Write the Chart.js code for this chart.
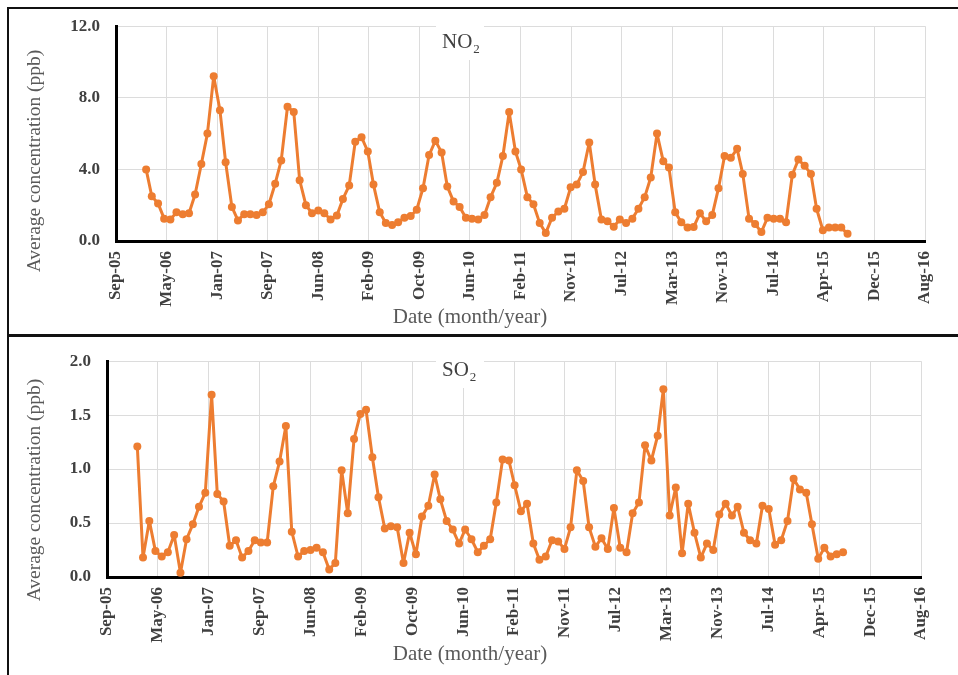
<!DOCTYPE html>
<html lang="en">
<head>
<meta charset="UTF-8">
<title>Monthly NO2 and SO2</title>
<script src="https://cdn.jsdelivr.net/npm/chart.js"></script>
<style>
  body { margin: 0; background: #fff; }
  #wrap { position: relative; width: 958px; height: 675px; overflow: hidden; }
  canvas { position: absolute; left: 0; }
  #no2Chart { top: 0; }
  #so2Chart { top: 335px; }
  .frame { position: absolute; border-left: 2px solid #111; border-top: 2px solid #111; }
</style>
</head>
<body>
<div id="wrap">
  <canvas id="no2Chart" width="958" height="335"></canvas>
  <canvas id="so2Chart" width="958" height="340"></canvas>
  <div class="frame" style="left:7px; top:7px; width:951px; height:326px;"></div>
  <div class="frame" style="left:7px; top:334px; width:951px; height:341px; border-top-width:3px;"></div>
</div>

<script>
// monthly averages, first value is Feb 2006, last is Aug 2015
const firstMonth = { year: 2006, month: 1 };

const no2 = [
  4.0, 2.5, 2.1, 1.25, 1.2, 1.6, 1.5, 1.55, 2.6, 4.3, 6.0, 9.2,
  7.3, 4.4, 1.9, 1.15, 1.5, 1.5, 1.45, 1.6, 2.05, 3.2, 4.5, 7.5,
  7.2, 3.4, 2.0, 1.55, 1.7, 1.55, 1.2, 1.42, 2.35, 3.1, 5.55, 5.8,
  5.0, 3.15, 1.6, 1.0, 0.9, 1.05, 1.3, 1.4, 1.75, 2.95, 4.8, 5.6,
  4.95, 3.05, 2.2, 1.9, 1.3, 1.25, 1.2, 1.45, 2.45, 3.25, 4.75, 7.2,
  5.0, 4.0, 2.45, 2.05, 1.0, 0.45, 1.3, 1.65, 1.8, 3.0, 3.15, 3.85,
  5.5, 3.15, 1.2, 1.1, 0.8, 1.2, 1.0, 1.25, 1.8, 2.45, 3.55, 6.0,
  4.45, 4.1, 1.6, 1.05, 0.75, 0.78, 1.55, 1.1, 1.45, 2.95, 4.75, 4.65,
  5.15, 3.75, 1.25, 0.95, 0.5, 1.3, 1.25, 1.25, 1.05, 3.7, 4.55, 4.2,
  3.75, 1.8, 0.6, 0.75, 0.75, 0.75, 0.4
];

const so2 = [
  1.21, 0.18, 0.52, 0.24, 0.19, 0.23, 0.39, 0.04, 0.35, 0.49, 0.65, 0.78,
  1.69, 0.77, 0.70, 0.29, 0.34, 0.18, 0.24, 0.34, 0.32, 0.32, 0.84, 1.07,
  1.40, 0.42, 0.19, 0.24, 0.25, 0.27, 0.23, 0.07, 0.13, 0.99, 0.59, 1.28,
  1.51, 1.55, 1.11, 0.74, 0.45, 0.47, 0.46, 0.13, 0.41, 0.21, 0.56, 0.66,
  0.95, 0.72, 0.52, 0.44, 0.31, 0.44, 0.35, 0.23, 0.29, 0.35, 0.69, 1.09,
  1.08, 0.85, 0.61, 0.68, 0.31, 0.16, 0.19, 0.34, 0.33, 0.26, 0.46, 0.99,
  0.89, 0.46, 0.28, 0.36, 0.26, 0.64, 0.27, 0.23, 0.59, 0.69, 1.22, 1.08,
  1.31, 1.74, 0.57, 0.83, 0.22, 0.68, 0.41, 0.18, 0.31, 0.25, 0.58, 0.68,
  0.57, 0.65, 0.41, 0.34, 0.31, 0.66, 0.63, 0.30, 0.34, 0.52, 0.91, 0.81,
  0.78, 0.49, 0.17, 0.27, 0.19, 0.21, 0.23
];

// date axis: ticks every 250 days starting 5 Sep 2005
const xTickLabels = [
  'Sep-05', 'May-06', 'Jan-07', 'Sep-07', 'Jun-08', 'Feb-09', 'Oct-09', 'Jun-10', 'Feb-11',
  'Nov-11', 'Jul-12', 'Mar-13', 'Nov-13', 'Jul-14', 'Apr-15', 'Dec-15', 'Aug-16'
];
const tickStepDays = 250;
const axisStart = Date.UTC(2005, 8, 5);

const no2Ticks = [0, 4, 8, 12];
const so2Ticks = [0, 0.5, 1.0, 1.5, 2.0];

const dayOf = (y, m) => (Date.UTC(y, m, 1) - axisStart) / 864e5;
const toPoints = arr => arr.map((v, i) => ({ x: dayOf(firstMonth.year, firstMonth.month + i), y: v }));

const serif = '"Liberation Serif", "Times New Roman", serif';

// draws axis titles and the gas label (with subscript)
const panelText = {
  id: 'panelText',
  afterDraw(chart, args, opts) {
    const ctx = chart.ctx;
    ctx.save();
    opts.items.forEach(t => {
      ctx.save();
      ctx.fillStyle = t.color;
      ctx.font = t.size + 'px ' + serif;
      ctx.translate(t.x, t.y);
      if (t.rotate) ctx.rotate(t.rotate);
      if (t.box) {
        ctx.fillStyle = '#fff';
        ctx.fillRect(t.box[0], t.box[1], t.box[2], t.box[3]);
        ctx.fillStyle = t.color;
      }
      ctx.textAlign = t.align || 'left';
      ctx.textBaseline = t.baseline || 'alphabetic';
      ctx.fillText(t.text, 0, 0);
      if (t.sub) {
        const w = ctx.measureText(t.text).width;
        ctx.font = Math.round(t.size * 0.62) + 'px ' + serif;
        ctx.textAlign = 'left';
        ctx.fillText(t.sub, w + 1, t.size * 0.22);
      }
      ctx.restore();
    });
    ctx.restore();
  }
};

function makeChart(id, values, yTicks, box) {
  const ctx = document.getElementById(id).getContext('2d');
  const tickFont = { family: serif, size: 17, weight: 'bold' };
  return new Chart(ctx, {
    type: 'line',
    data: {
      datasets: [{
        data: toPoints(values),
        borderColor: '#ED7D31',
        backgroundColor: '#ED7D31',
        borderWidth: 3,
        borderJoinStyle: 'round',
        borderCapStyle: 'round',
        pointRadius: 4,
        pointBorderWidth: 0,
        pointBackgroundColor: '#ED7D31',
        tension: 0
      }]
    },
    options: {
      responsive: false,
      animation: false,
      layout: { padding: box.padding },
      scales: {
        x: {
          type: 'linear',
          min: 0,
          max: tickStepDays * (xTickLabels.length - 1),
          afterBuildTicks: s => { s.ticks = xTickLabels.map((_, k) => ({ value: k * tickStepDays })); },
          afterFit: s => { s.height = box.xHeight; },
          ticks: {
            autoSkip: false, minRotation: 90, maxRotation: 90, padding: 10,
            color: '#404040', font: tickFont,
            callback: (v, i) => xTickLabels[i]
          },
          grid: { color: '#dcdcdc', lineWidth: 1, drawTicks: false },
          border: { color: '#000', width: 3 }
        },
        y: {
          min: yTicks[0],
          max: yTicks[yTicks.length - 1],
          afterBuildTicks: s => { s.ticks = yTicks.map(v => ({ value: v })); },
          afterFit: s => { s.width = box.yWidth; },
          ticks: {
            padding: 16, color: '#404040', font: tickFont,
            callback: v => v.toFixed(1)
          },
          grid: { color: '#dcdcdc', lineWidth: 1, drawTicks: false },
          border: { color: '#000', width: 3 }
        }
      },
      plugins: {
        legend: { display: false },
        tooltip: { enabled: false },
        panelText: { items: box.texts }
      }
    },
    plugins: [panelText]
  });
}

makeChart('no2Chart', no2, no2Ticks, {
  padding: { left: 0, right: 33, top: 23, bottom: 0 },
  yWidth: 116, xHeight: 94,
  texts: [
    { text: 'Average concentration (ppb)', x: 35, y: 161, size: 19.5, color: '#595959',
      rotate: -Math.PI / 2, align: 'center', baseline: 'middle' },
    { text: 'Date (month/year)', x: 470, y: 323, size: 21, color: '#595959', align: 'center' },
    { text: 'NO', sub: '2', x: 442, y: 48, size: 21, color: '#404040', box: [-6, -22, 48, 34] }
  ]
});

makeChart('so2Chart', so2, so2Ticks, {
  padding: { left: 0, right: 37, top: 19, bottom: 0 },
  yWidth: 107, xHeight: 98,
  texts: [
    { text: 'Average concentration (ppb)', x: 35, y: 155, size: 19.5, color: '#595959',
      rotate: -Math.PI / 2, align: 'center', baseline: 'middle' },
    { text: 'Date (month/year)', x: 470, y: 325, size: 21, color: '#595959', align: 'center' },
    { text: 'SO', sub: '2', x: 442, y: 41, size: 21, color: '#404040', box: [-6, -24, 48, 36] }
  ]
});
</script>
</body>
</html>
